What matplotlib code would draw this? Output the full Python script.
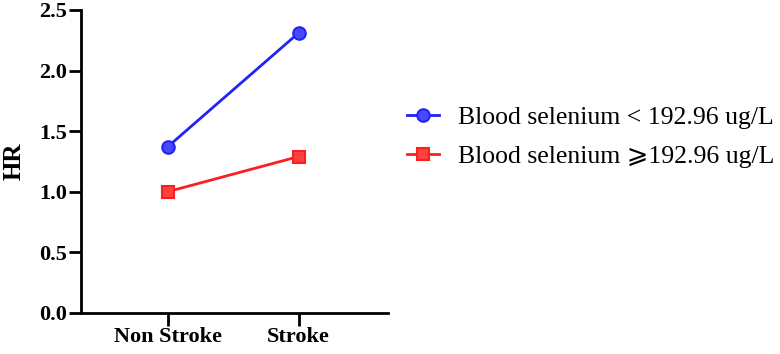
import matplotlib
matplotlib.use("Agg")
import matplotlib.pyplot as plt

groups = ["Non Stroke", "Stroke"]
hr_low = [1.37, 2.31]   # Blood selenium < 192.96 ug/L
hr_high = [1.00, 1.29]  # Blood selenium >= 192.96 ug/L
labels = ["Blood selenium < 192.96 ug/L", "Blood selenium \u2A7E192.96 ug/L"]

plt.rcParams["font.family"] = ["Liberation Serif", "DejaVu Sans"]

fig = plt.figure(figsize=(7.8, 3.54), dpi=100)
ax = fig.add_axes([0.104, 0.116, 0.393, 0.856])

x = list(range(len(groups)))
ax.plot(x, hr_low, color="#2323f5", linewidth=2, marker="o", markersize=9,
        markerfacecolor="#4848ff", markeredgecolor="#2323f5", markeredgewidth=1.5,
        label=labels[0])
ax.plot(x, hr_high, color="#fa2020", linewidth=2, marker="s", markersize=9,
        markerfacecolor="#ff4040", markeredgecolor="#fa2020", markeredgewidth=1.5,
        label=labels[1])

ax.set_xlim(-0.66, 1.68)
ax.set_ylim(0, 2.5)
ax.set_yticks([0, 0.5, 1.0, 1.5, 2.0, 2.5])
ax.set_yticklabels(["0.0", "0.5", "1.0", "1.5", "2.0", "2.5"])
ax.set_xticks(x)
ax.set_xticklabels(groups)
for lab in ax.get_xticklabels() + ax.get_yticklabels():
    lab.set_fontweight("bold")
    lab.set_fontsize(16)
ax.set_ylabel("HR", fontsize=18, fontweight="bold", labelpad=10)

for s in ["top", "right"]:
    ax.spines[s].set_visible(False)
for s in ["left", "bottom"]:
    ax.spines[s].set_linewidth(2)
ax.tick_params(width=2, length=9, pad=1)

fig.legend(loc="center left", bbox_to_anchor=(0.522, 0.612), frameon=False,
           fontsize=18.5, handlelength=1.25, handletextpad=0.74,
           labelspacing=0.63, borderaxespad=0, borderpad=0)

fig.savefig("out.png", dpi=100)
